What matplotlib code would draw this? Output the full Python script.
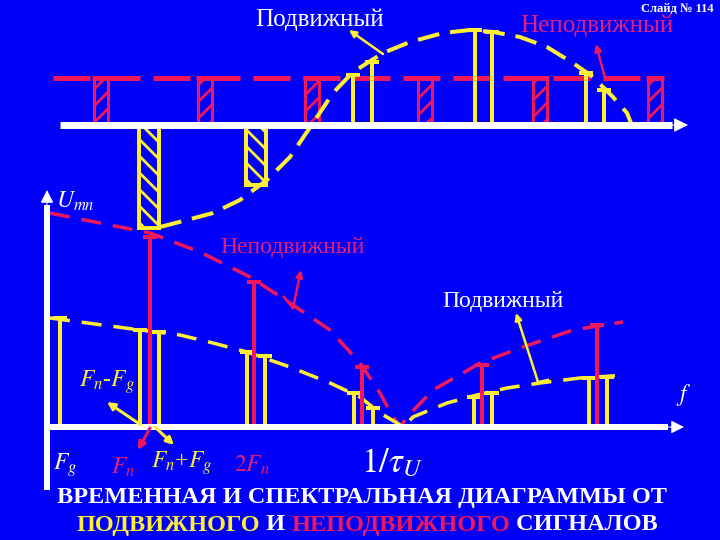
import numpy as np
import matplotlib
matplotlib.use("Agg")
import matplotlib.pyplot as plt
from matplotlib.patches import Rectangle

# colours
BG = '#0000F8'
RED = '#F0185A'
RED_TXT = '#E0207A'
YEL = '#FFEE33'
WHITE = '#FFFFFF'

plt.rcParams['font.family'] = ['Liberation Serif', 'DejaVu Serif']
plt.rcParams['mathtext.fontset'] = 'stix'
plt.rcParams['lines.scale_dashes'] = False
plt.rcParams['hatch.linewidth'] = 2.0

PX = 0.72  # points per pixel at dpi 100

# ---- top (time) diagram, pixel coordinates ----
top_axis_y = 125
top_red_level = 78
top_red_x = [101, 205, 312, 425, 540, 655]
top_yel_neg_x = [149, 256]
top_yel_neg_y = [228, 185]
top_yel_pos_x = [353, 372, 475, 492, 586, 604]
top_yel_pos_y = [75, 62, 30, 32, 73, 90]
top_env_x = [160, 187, 213, 240, 267, 290, 313, 333, 353, 383, 410, 443, 470,
             493, 520, 547, 573, 593, 613, 627, 635]
top_env_y = [227, 220, 213, 200, 180, 157, 123, 93, 72, 53, 42, 33, 30,
             32, 37, 47, 63, 77, 97, 113, 133]

# ---- bottom (spectrum) diagram ----
spec_axis_y = 427
red_x = [150, 254, 362, 482, 597]
red_top = [237, 282, 367, 365, 325]
yel_x = [60, 140, 159, 247, 265, 354, 373, 474, 492, 589, 607]
yel_top = [318, 330, 332, 352, 356, 393, 408, 397, 393, 378, 377]
red_env_x = [50, 100, 150, 200, 250, 290, 330, 360, 380, 393, 400, 407, 433,
             463, 480, 523, 573, 623]
red_env_y = [213, 223, 233, 252, 277, 303, 330, 363, 393, 417, 427, 417, 390,
             373, 363, 347, 330, 322]
yel_env_x = [50, 140, 180, 213, 247, 290, 330, 360, 380, 397, 403, 413, 447,
             473, 507, 540, 580, 627]
yel_env_y = [318, 330, 335, 343, 352, 367, 383, 397, 413, 423, 427, 417, 403,
             396, 388, 383, 378, 375]

fig = plt.figure(figsize=(7.2, 5.4), dpi=100, facecolor=BG)
ax = fig.add_axes([0, 0, 1, 1])
ax.set_facecolor(BG)
ax.set_xlim(0, 720)
ax.set_ylim(540, 0)
ax.axis('off')


def arrow(tail, head, color, lw, ms=14):
    ax.annotate('', xy=head, xytext=tail,
                arrowprops=dict(arrowstyle='-|>', color=color, lw=lw * PX,
                                mutation_scale=ms, shrinkA=0, shrinkB=0))


# top red dashed level and hatched bars
ax.plot([53, 640], [top_red_level, top_red_level], color=RED, lw=5 * PX,
        dashes=(37 * PX, 13 * PX), solid_capstyle='butt')
for x in top_red_x:
    ax.add_patch(Rectangle((x - 7, top_red_level), 14, top_axis_y - top_red_level,
                           facecolor=BG, edgecolor=RED, lw=3 * PX, hatch='//'))
    ax.hlines(top_red_level, x - 9, x + 9, color=RED, lw=5 * PX)

# top yellow negative hatched bars
for x, y in zip(top_yel_neg_x, top_yel_neg_y):
    ax.add_patch(Rectangle((x - 10, top_axis_y), 20, y - top_axis_y,
                           facecolor=BG, edgecolor=YEL, lw=4 * PX, hatch='\\\\'))

# top yellow positive stems
ax.vlines(top_yel_pos_x, top_yel_pos_y, top_axis_y, color=YEL, lw=4 * PX)
for x, y in zip(top_yel_pos_x, top_yel_pos_y):
    ax.hlines(y, x - 7, x + 7, color=YEL, lw=4 * PX)

# top envelope
ax.plot(top_env_x, top_env_y, color=YEL, lw=4 * PX, dashes=(22 * PX, 11 * PX))

# top axis
ax.plot([60, 672], [top_axis_y, top_axis_y], color=WHITE, lw=7 * PX,
        solid_capstyle='butt')
arrow((668, top_axis_y), (688, top_axis_y), WHITE, 1, ms=22)

# top labels
ax.text(320, 20, 'Подвижный', color=WHITE, fontsize=18, ha='center', va='center')
ax.text(597, 26, 'Неподвижный', color=RED_TXT, fontsize=18, ha='center', va='center')
ax.text(714, 9, 'Слайд № 114', color=WHITE, fontsize=9, fontweight='bold',
        ha='right', va='center')
arrow((383, 54), (349, 30), YEL, 2.5, ms=10)
arrow((605, 78), (596, 44), RED, 2.5, ms=10)

# ---- spectrum ----
ax.plot(red_env_x, red_env_y, color=RED, lw=3.5 * PX, dashes=(20 * PX, 12 * PX))
ax.plot(yel_env_x, yel_env_y, color=YEL, lw=3.5 * PX, dashes=(20 * PX, 12 * PX))

ax.vlines(yel_x, yel_top, spec_axis_y, color=YEL, lw=4 * PX)
for x, y in zip(yel_x, yel_top):
    ax.hlines(y, x - 7, x + 7, color=YEL, lw=4 * PX)
ax.vlines(red_x, red_top, spec_axis_y, color=RED, lw=4 * PX)
for x, y in zip(red_x, red_top):
    ax.hlines(y, x - 7, x + 7, color=RED, lw=4 * PX)

# spectrum axes
ax.plot([47, 668], [spec_axis_y, spec_axis_y], color=WHITE, lw=6 * PX,
        solid_capstyle='butt')
arrow((664, spec_axis_y), (684, spec_axis_y), WHITE, 1, ms=20)
ax.plot([47, 47], [490, 205], color=WHITE, lw=6 * PX, solid_capstyle='butt')
arrow((47, 208), (47, 190), WHITE, 1, ms=20)

ax.text(56, 201, r'$U_{mn}$', color=WHITE, fontsize=17, ha='left', va='center')
ax.text(684, 395, r'$f$', color=WHITE, fontsize=17, ha='center', va='center')

# callouts in spectrum
ax.text(293, 248, 'Неподвижный', color=RED_TXT, fontsize=17, ha='center', va='center')
ax.plot([284, 293], [297, 308], color=RED, lw=2.5 * PX)
arrow((293, 308), (301, 270), RED, 2.5, ms=10)
ax.text(503, 301, 'Подвижный', color=WHITE, fontsize=17, ha='center', va='center')
ax.plot([538, 548], [382, 380], color=YEL, lw=2.5 * PX)
arrow((538, 382), (516, 313), YEL, 2.5, ms=10)

# frequency labels
ax.text(107, 382, r'$F_n$-$F_g$', color=YEL, fontsize=17, ha='center', va='center')
arrow((141, 425), (107, 402), YEL, 3, ms=11)
ax.text(65, 465, r'$F_g$', color='#FFFFB0', fontsize=17, ha='center', va='center')
ax.text(123, 467, r'$F_n$', color=RED_TXT, fontsize=17, ha='center', va='center')
arrow((150, 428), (138, 450), RED, 3, ms=11)
ax.text(182, 463, r'$F_n$+$F_g$', color=YEL, fontsize=17, ha='center', va='center')
arrow((155, 427), (174, 445), YEL, 3, ms=11)
ax.text(252, 465, r'$2F_n$', color=RED_TXT, fontsize=17, ha='center', va='center')
ax.text(392, 464, r'$1/\tau_U$', color=WHITE, fontsize=25, ha='center', va='center')

# title
ax.text(362, 497, 'ВРЕМЕННАЯ И СПЕКТРАЛЬНАЯ ДИАГРАММЫ ОТ', color=WHITE,
        fontsize=17.5, fontweight='bold', ha='center', va='center')
parts = [('ПОДВИЖНОГО', YEL), (' И ', WHITE), ('НЕПОДВИЖНОГО', RED), (' СИГНАЛОВ', WHITE)]
t = ax.text(77, 525, parts[0][0], color=parts[0][1], fontsize=17.5,
            fontweight='bold', ha='left', va='center')
for s, c in parts[1:]:
    t = ax.annotate(s, xy=(1, 0), xycoords=t, color=c, fontsize=17.5,
                    fontweight='bold', ha='left', va='bottom')

plt.savefig('out.png', dpi=100, facecolor=BG)
